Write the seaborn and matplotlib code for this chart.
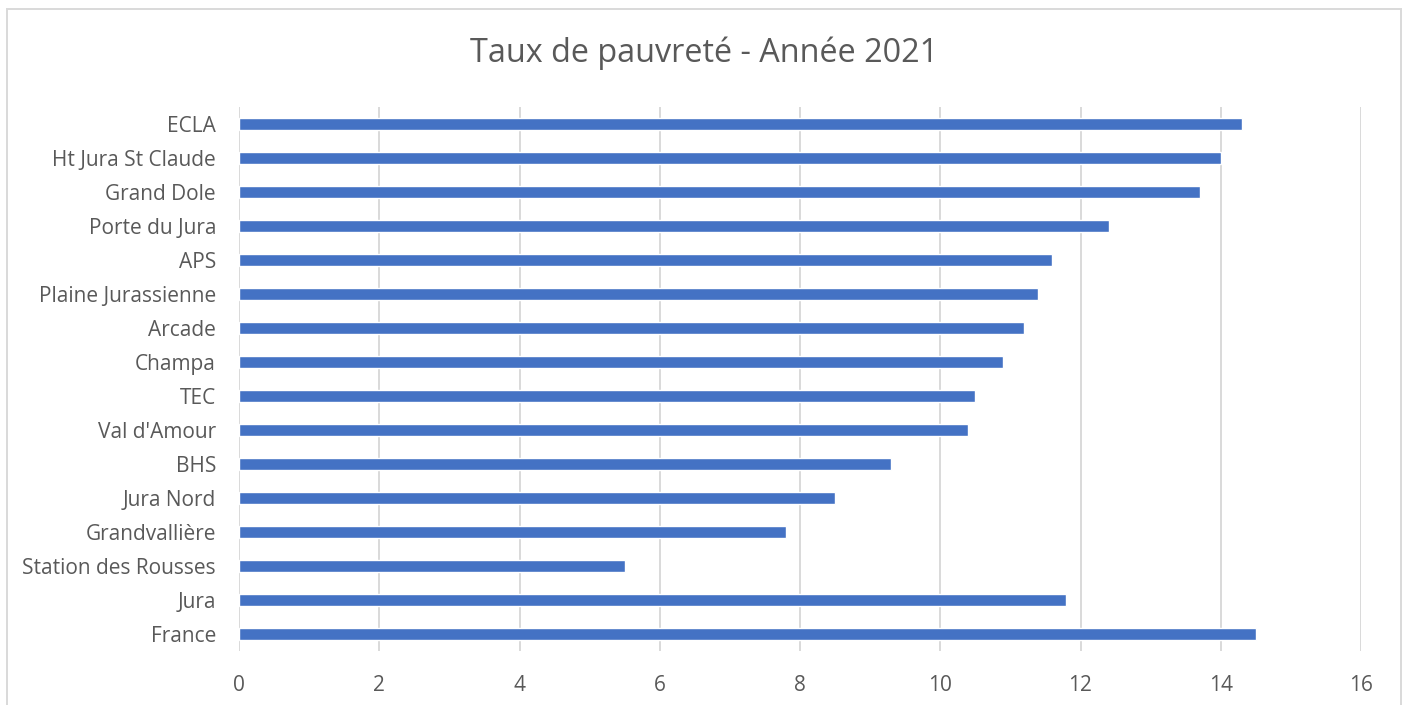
import matplotlib
matplotlib.use("Agg")
import matplotlib.pyplot as plt
from matplotlib.patches import Rectangle
import seaborn as sns
import pandas as pd

territoires = ["ECLA", "Ht Jura St Claude", "Grand Dole", "Porte du Jura", "APS",
               "Plaine Jurassienne", "Arcade", "Champa", "TEC", "Val d'Amour",
               "BHS", "Jura Nord", "Grandvallière", "Station des Rousses",
               "Jura", "France"]
taux = [14.3, 14.0, 13.7, 12.4, 11.6, 11.4, 11.2, 10.9, 10.5, 10.4,
        9.3, 8.5, 7.8, 5.5, 11.8, 14.5]
x_ticks = [0, 2, 4, 6, 8, 10, 12, 14, 16]

df = pd.DataFrame({"territoire": territoires, "taux": taux})

sns.set_theme(style="white")
plt.rcParams["font.family"] = ["Open Sans", "DejaVu Sans"]

text_col = "#595959"
grid_col = "#D9D9D9"

fig = plt.figure(figsize=(14.09, 7.05), dpi=100)
ax = fig.add_axes([239 / 1409, 1 - 651 / 705, (1361 - 239) / 1409, (651 - 107) / 705])

sns.barplot(data=df, x="taux", y="territoire", orient="h", color="#4472C4",
            width=0.37, saturation=1, ax=ax, zorder=3)

ax.set_xlim(0, 16)
ax.set_xticks(x_ticks)
ax.set_xticklabels([str(t) for t in x_ticks])
ax.set_xlabel("")
ax.set_ylabel("")
ax.grid(axis="x", color=grid_col, linewidth=1.4, zorder=0)
ax.set_axisbelow(True)
for s in ax.spines.values():
    s.set_visible(False)
ax.tick_params(axis="both", length=0, colors=text_col, labelsize=15)
ax.tick_params(axis="y", pad=16.5)
ax.tick_params(axis="x", pad=17)

fig.text(704 / 1409, 1 - 53 / 705, "Taux de pauvreté - Année 2021", ha="center", va="center",
         fontsize=23.3, color=text_col)

fig.patches.append(Rectangle((7 / 1409, -0.01), (1401 - 7) / 1409, 1 - 9 / 705 + 0.01,
                             transform=fig.transFigure, fill=False,
                             edgecolor=grid_col, linewidth=1.4))

fig.savefig("out.png", dpi=100)
